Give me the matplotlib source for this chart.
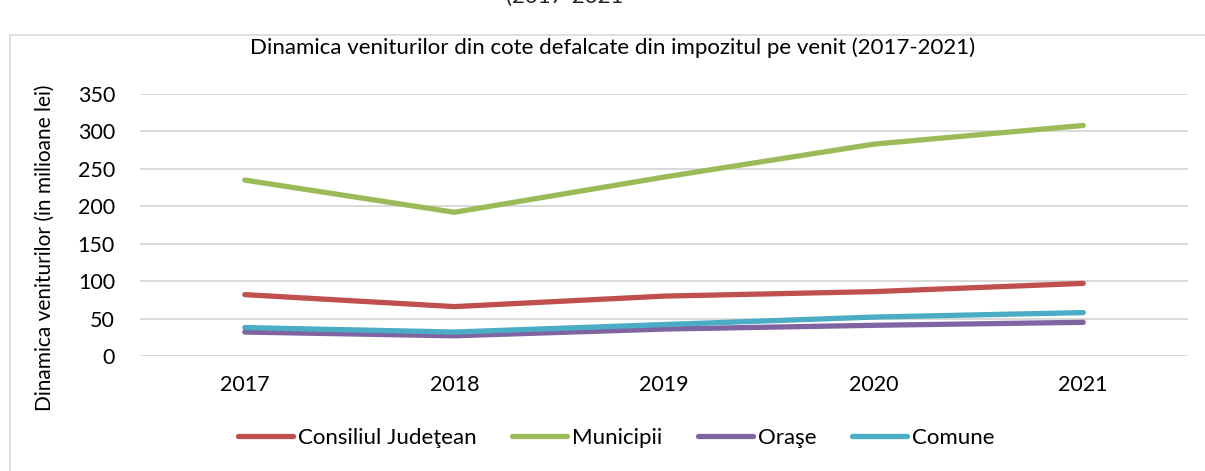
import matplotlib.pyplot as plt
from matplotlib.lines import Line2D

plt.rcParams['font.family'] = ['Lato', 'DejaVu Sans']

years = ['2017', '2018', '2019', '2020', '2021']
consiliul = [82, 66, 80, 86, 97]
municipii = [235, 192, 239, 283, 308]
orase = [32, 27, 36, 41, 45]
comune = [38, 32, 42, 52, 58]

series = [
    ('Consiliul Judeţean', consiliul, '#C0504D'),
    ('Municipii', municipii, '#9BBB59'),
    ('Oraşe', orase, '#8064A2'),
    ('Comune', comune, '#4BACC6'),
]

fig = plt.figure(figsize=(12.05, 4.71), dpi=100)

# frame of the chart box and clipped caption from above
fig.add_artist(Line2D([10/1205, 1], [1 - 35/471, 1 - 35/471], color='#D9D9D9', lw=1.2))
fig.add_artist(Line2D([10/1205, 10/1205], [0, 1 - 35/471], color='#D9D9D9', lw=1.2))
fig.text(565/1205, 1 + 3/471, '(2017-2021', ha='center', va='center', fontsize=16, color='#222222')

ax = fig.add_axes([140/1205, 1 - 356/471, 1048/1205, 262/471])
x = list(range(len(years)))
for name, vals, col in series:
    ax.plot(x, vals, color=col, lw=3.8, solid_capstyle='round', solid_joinstyle='round', label=name)

ax.set_xlim(-0.5, len(years) - 0.5)
ax.set_ylim(0, 350)
ax.set_yticks(range(0, 351, 50))
ax.set_xticks(x)
ax.set_xticklabels(years)
ax.grid(axis='y', color='#D9D9D9', lw=1.4)
ax.set_axisbelow(True)
for s in ax.spines.values():
    s.set_visible(False)
ax.tick_params(length=0, labelsize=15.5, colors='#000000')
ax.tick_params(axis='x', pad=14)
ax.tick_params(axis='y', pad=18)

fig.text(613/1205, 1 - 48/471, 'Dinamica veniturilor din cote defalcate din impozitul pe venit (2017-2021)',
         ha='center', va='center', fontsize=16)
fig.text(45/1205, 1 - 248/471, 'Dinamica veniturilor (in milioane lei)', rotation=90,
         ha='center', va='center', fontsize=15)

fig.legend(loc='center', bbox_to_anchor=(616/1205, 1 - 438/471), ncol=4, frameon=False,
           fontsize=16, handlelength=2.5, columnspacing=1.6, handletextpad=0.2)

fig.savefig('out.png', dpi=100)
